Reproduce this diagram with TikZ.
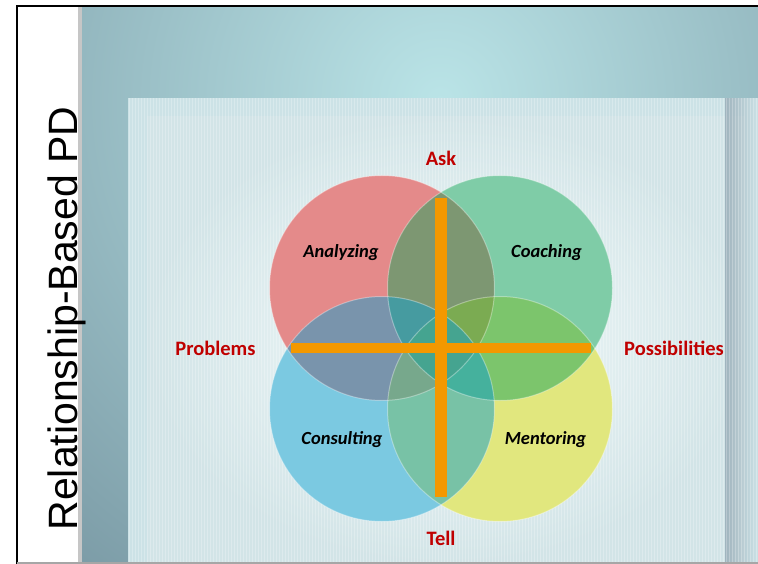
\documentclass[tikz,border=0pt]{standalone}
\usepackage{fontspec}
\setmainfont{Carlito}
\newfontfamily\arialfont{Liberation Sans}
\usetikzlibrary{fadings}
\definecolor{slidelight}{RGB}{186,228,231}
\definecolor{slidedark}{RGB}{100,128,142}
\definecolor{patbase}{RGB}{204,226,230}
\definecolor{patdark}{RGB}{160,180,190}
\definecolor{innerlight}{RGB}{244,251,251}
\definecolor{innerdark}{RGB}{210,228,231}
\definecolor{circbg}{RGB}{232,245,245}
\definecolor{cred}{RGB}{226,33,33}
\definecolor{cgreen}{RGB}{24,165,91}
\definecolor{cblue}{RGB}{16,159,207}
\definecolor{cyellow}{RGB}{220,219,9}
\definecolor{barorange}{RGB}{243,152,0}
\definecolor{labelred}{RGB}{192,0,0}
\begin{document}
\begin{tikzpicture}[x=1pt,y=-1pt,
  axislbl/.style={font=\bfseries\fontsize{20.5}{24}\selectfont, text=labelred, anchor=base, inner sep=0pt},
  circlbl/.style={font=\bfseries\itshape\fontsize{18.5}{22}\selectfont, text=black, anchor=base, inner sep=0pt},
  vennbase/.style={fill=circbg},
  venn/.style={fill opacity=0.5},
  barstyle/.style={fill=barorange}]
\useasboundingbox (0,0) rectangle (758,564);
\fill[white] (0,0) rectangle (758,564);
% slide background
\begin{scope}
  \clip (82,6) rectangle (758,564);
  \shade[inner color=slidelight, outer color=slidedark] (440,100) circle (820);
\end{scope}
\fill[gray!45] (78,6) rectangle (82,564);
% patterned panel
\fill[patbase] (128,98) rectangle (758,564);
\shade[inner color=innerlight, outer color=innerdark] (147,117) rectangle (745,564);
\fill[patdark, path fading=east] (725,98) rectangle (758,564);
\draw[white, opacity=0.25, line width=0.9pt, step=3] (128,98) grid (758,564);
% side title
\node[rotate=90, anchor=base, inner sep=0pt, font=\arialfont\fontsize{41}{48}\selectfont] (title) at (77,318.5) {Relationship-Based PD};
% frame
\draw[black, line width=2pt] (17,564) -- (17,6) -- (758,6);
\draw[gray!70, line width=1.5pt] (17,563) -- (758,563);
% circles
\coordinate (canl) at (382,288);
\coordinate (ccoa) at (500,288);
\coordinate (ccon) at (382,409);
\coordinate (cmen) at (500,409);
\foreach \c in {canl,ccoa,ccon,cmen} \fill[vennbase] (\c) circle (112.5);
\fill[venn, fill=cred] (canl) circle (112.5);
\fill[venn, fill=cyellow] (cmen) circle (112.5);
\fill[venn, fill=cgreen] (ccoa) circle (112.5);
\fill[venn, fill=cblue] (ccon) circle (112.5);
\foreach \c in {canl,cmen,ccoa,ccon}
  \draw[white, opacity=0.35, line width=1pt] (\c) circle (112.5);
% cross
\fill[barstyle] (435,198) rectangle (447,497);
\fill[barstyle] (291,343) rectangle (591,353);
% labels
\node[axislbl] (ask) at (441,166) {Ask};
\node[axislbl] (tell) at (441,545) {Tell};
\node[axislbl] (prob) at (215.5,355) {Problems};
\node[axislbl] (poss) at (674,355) {Possibilities};
\node[circlbl] (anl) at (341,258) {Analyzing};
\node[circlbl] (coa) at (546.5,258) {Coaching};
\node[circlbl] (con) at (342,444) {Consulting};
\node[circlbl] (men) at (545.5,444) {Mentoring};
\end{tikzpicture}
\end{document}
